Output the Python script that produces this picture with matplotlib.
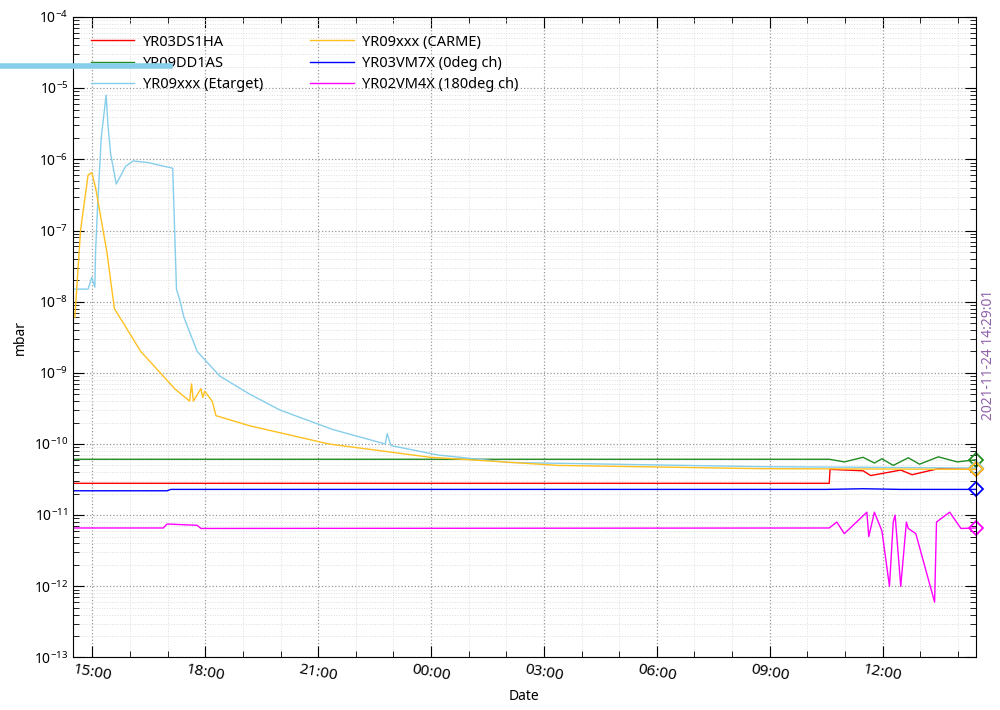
import matplotlib
matplotlib.use("Agg")
import matplotlib.pyplot as plt
import matplotlib.dates as mdates
from matplotlib.lines import Line2D
import datetime as dt

plt.rcParams['font.family'] = ['Noto Sans', 'DejaVu Sans']

t0 = dt.datetime(2021, 11, 23, 14, 29, 1)

# hours since start, values in mbar
et_h = [0.05, 0.4, 0.5, 0.58, 0.6, 0.65, 0.75, 0.88, 0.93, 1.0, 1.15, 1.4, 1.6, 2.0, 2.65, 2.75, 2.85, 2.95, 3.3, 3.9, 4.7, 5.5, 6.9, 8.3, 8.35, 8.45, 9.7, 11.6, 18.3, 24.0]
et_v = [1.5e-8, 1.5e-8, 2.2e-8, 1.6e-8, 5e-8, 2e-7, 2e-6, 8e-6, 3e-6, 1.2e-6, 4.5e-7, 8e-7, 9.5e-7, 9e-7, 7.5e-7, 1.5e-8, 1e-8, 6e-9, 2e-9, 9e-10, 5e-10, 3e-10, 1.6e-10, 1.0e-10, 1.4e-10, 9.5e-11, 7e-11, 5.5e-11, 4.8e-11, 4.6e-11]

ca_h = [0.05, 0.2, 0.4, 0.5, 0.6, 0.9, 1.1, 1.8, 2.7, 3.1, 3.15, 3.2, 3.4, 3.45, 3.5, 3.7, 3.8, 4.7, 6.8, 9.5, 12.9, 18.3, 24.0]
ca_v = [6e-9, 1e-7, 6e-7, 6.5e-7, 4e-7, 5e-8, 8e-9, 2e-9, 6e-10, 4e-10, 7e-10, 4e-10, 6e-10, 4.5e-10, 5.5e-10, 4e-10, 2.5e-10, 1.8e-10, 1e-10, 6.5e-11, 5e-11, 4.5e-11, 4.4e-11]

gr_h = [0.0, 20.1, 20.5, 21.0, 21.3, 21.5, 21.8, 22.2, 22.5, 23.0, 23.5, 24.0]
gr_v = [6.1e-11, 6.1e-11, 5.6e-11, 6.5e-11, 5.4e-11, 6.2e-11, 5.0e-11, 6.4e-11, 5.2e-11, 6.6e-11, 5.6e-11, 6.0e-11]

rd_h = [0.0, 20.1, 20.12, 21.0, 21.2, 22.0, 22.3, 23.0, 24.0]
rd_v = [2.8e-11, 2.8e-11, 4.4e-11, 4.2e-11, 3.6e-11, 4.3e-11, 3.7e-11, 4.5e-11, 4.4e-11]

bl_h = [0.0, 2.5, 2.6, 20.0, 21.0, 22.0, 24.0]
bl_v = [2.2e-11, 2.2e-11, 2.3e-11, 2.3e-11, 2.35e-11, 2.3e-11, 2.3e-11]

mg_h = [0.0, 2.4, 2.5, 3.3, 3.4, 20.1, 20.3, 20.5, 21.1, 21.15, 21.3, 21.5, 21.7, 21.8, 21.85, 22.0, 22.15, 22.2, 22.4, 22.9, 22.95, 23.3, 23.6, 24.0]
mg_v = [6.6e-12, 6.6e-12, 7.5e-12, 7.2e-12, 6.5e-12, 6.6e-12, 8e-12, 5.5e-12, 1.1e-11, 5e-12, 1.1e-11, 6e-12, 1e-12, 8e-12, 1e-11, 1e-12, 8e-12, 6.5e-12, 5.5e-12, 6e-13, 8e-12, 1.1e-11, 6.5e-12, 6.6e-12]

series = [
    ("YR03DS1HA", rd_h, rd_v, "#ff0000"),
    ("YR09DD1AS", gr_h, gr_v, "#228b22"),
    ("YR09xxx (Etarget)", et_h, et_v, "#87ceeb"),
    ("YR09xxx (CARME)", ca_h, ca_v, "#ffc020"),
    ("YR03VM7X (0deg ch)", bl_h, bl_v, "#0000ff"),
    ("YR02VM4X (180deg ch)", mg_h, mg_v, "#ff00ff"),
]

fig = plt.figure(figsize=(10, 7.1), dpi=100)
ax = fig.add_axes([0.073, 0.074, 0.903, 0.902])

for name, h, v, c in series:
    x = [t0 + dt.timedelta(hours=hh) for hh in h]
    ax.plot(x, v, color=c, lw=1, label=name)
    ax.plot(x[-1], v[-1], marker='D', ms=7, mfc='none', mec=c, mew=1.3, clip_on=False)

ax.set_yscale('log')
ax.set_ylim(1e-13, 1e-4)
ax.set_xlim(t0, t0 + dt.timedelta(hours=24))
ax.xaxis.set_major_locator(mdates.HourLocator(byhour=range(0, 24, 3)))
ax.xaxis.set_minor_locator(mdates.HourLocator())
ax.xaxis.set_major_formatter(mdates.DateFormatter('%H:%M'))
for lab in ax.get_xticklabels():
    lab.set_rotation(-10)
    lab.set_fontsize(11)
ax.tick_params(which='both', direction='in', top=True, right=True)
ax.tick_params(which='major', length=8)
ax.tick_params(which='minor', length=4)
ax.grid(which='major', ls=':', color='#999999', lw=0.9)
ax.grid(which='minor', ls=':', color='#dddddd', lw=0.7)
ax.set_xlabel('Date')
ax.set_ylabel('mbar')
ax.legend(ncol=2, frameon=False, loc='upper left', handlelength=3, handletextpad=0.6,
          columnspacing=3.2, labelspacing=0.42, fontsize=10.5, borderaxespad=0.8)

fig.text(0.988, 0.5, '2021-11-24 14:29:01', rotation=90, color='#9060a8', va='center', ha='center', fontsize=10)
fig.add_artist(Line2D([0, 0.17], [0.907, 0.907], color='#87ceeb', lw=4, transform=fig.transFigure))

fig.savefig('out.png')
